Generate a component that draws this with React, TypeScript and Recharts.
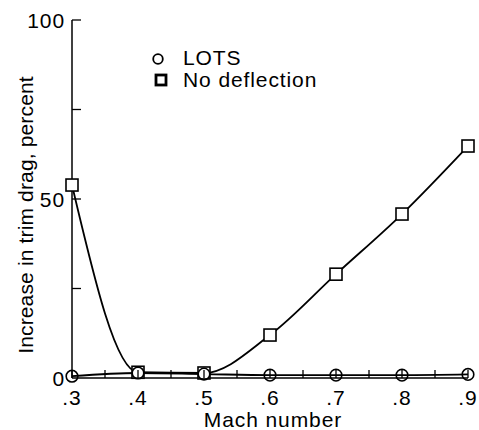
import React from "react";
import { LineChart, Line, XAxis, YAxis } from "recharts";

const mach = [0.3, 0.4, 0.5, 0.6, 0.7, 0.8, 0.9];
const lots = [0.5, 1.4, 1.1, 0.8, 0.8, 0.8, 1.0];
const noDeflection = [53.9, 1.6, 1.4, 12, 29, 45.8, 64.8];

const xTicks = [0.3, 0.35, 0.4, 0.45, 0.5, 0.55, 0.6, 0.65, 0.7, 0.75, 0.8, 0.85, 0.9];
const xTickLabels = [".3", "", ".4", "", ".5", "", ".6", "", ".7", "", ".8", "", ".9"];
const yTicks = [0, 25, 50, 75, 100];
const yTickLabels = ["0", "", "50", "", "100"];
const seriesNames = ["LOTS", "No deflection"];

const data = mach.map((m, i) => ({ mach: m, lots: lots[i], nodef: noDeflection[i] }));

const FONT = "'Liberation Sans', Arial, Helvetica, sans-serif";
const FS = 21;
const LS = 0.9;

const XTick = (props: any) => {
  const { x, y, payload } = props;
  const idx = xTicks.indexOf(payload.value);
  const label = idx >= 0 ? xTickLabels[idx] : "";
  return (
    <g>
      <line x1={x} y1={y} x2={x} y2={y - 8} stroke="#000" strokeWidth={1.3} />
      {label && (
        <text x={x} y={y + 27} textAnchor="middle" fontFamily={FONT} fontSize={FS} fill="#000" letterSpacing={LS}>
          {label}
        </text>
      )}
    </g>
  );
};

const YTick = (props: any) => {
  const { x, y, payload } = props;
  const idx = yTicks.indexOf(payload.value);
  const label = idx >= 0 ? yTickLabels[idx] : "";
  return (
    <g>
      {payload.value !== 0 && <line x1={x} y1={y} x2={x + 9} y2={y} stroke="#000" strokeWidth={1.3} />}
      {label && (
        <text x={x - 7} y={y + 8} textAnchor="end" fontFamily={FONT} fontSize={FS} fill="#000" letterSpacing={LS}>
          {label}
        </text>
      )}
    </g>
  );
};

const YLabel = (props: any) => {
  const vb = props.viewBox || { x: 12, y: 20, width: 60, height: 358 };
  const cx = vb.x + 21;
  const cy = vb.y + vb.height / 2 + 16;
  return (
    <text
      x={cx}
      y={cy}
      transform={`rotate(-90 ${cx} ${cy})`}
      textAnchor="middle"
      fontFamily={FONT}
      fontSize={FS}
      fill="#000"
      letterSpacing={0.15}
    >
      Increase in trim drag, percent
    </text>
  );
};

const XLabel = (props: any) => {
  const vb = props.viewBox || { x: 72, y: 378, width: 396, height: 30 };
  const cx = vb.x + vb.width / 2 + 3;
  const cy = vb.y + 49;
  return (
    <text x={cx} y={cy} textAnchor="middle" fontFamily={FONT} fontSize={FS} fill="#000" letterSpacing={LS}>
      Mach number
    </text>
  );
};

const SquareDot = (props: any) => {
  const { cx, cy } = props;
  if (cx == null || cy == null) return null;
  return <rect x={cx - 6} y={cy - 6} width={12} height={12} fill="#fff" stroke="#000" strokeWidth={1.6} />;
};

const rowStyle: React.CSSProperties = { display: "flex", alignItems: "center", height: 22, lineHeight: "22px" };

export default function App() {
  return (
    <div style={{ position: "absolute", left: 0, top: 0, width: 479, height: 430, background: "#fff" }}>
      <LineChart width={479} height={430} data={data} margin={{ top: 20, left: 12, right: 11, bottom: 22 }}>
        <XAxis
          type="number"
          dataKey="mach"
          domain={[0.3, 0.9]}
          ticks={xTicks}
          interval={0}
          tickSize={0}
          tickMargin={0}
          tickLine={false}
          tick={<XTick />}
          axisLine={{ stroke: "#000", strokeWidth: 1.5 }}
          height={30}
          label={<XLabel />}
        />
        <YAxis
          type="number"
          domain={[0, 100]}
          ticks={yTicks}
          interval={0}
          tickSize={0}
          tickMargin={0}
          tickLine={false}
          tick={<YTick />}
          axisLine={{ stroke: "#000", strokeWidth: 1.5 }}
          width={60}
          label={<YLabel />}
        />
        <Line
          type="monotone"
          dataKey="nodef"
          name={seriesNames[1]}
          stroke="#000"
          strokeWidth={1.8}
          dot={<SquareDot />}
          isAnimationActive={false}
        />
        <Line
          type="monotone"
          dataKey="lots"
          name={seriesNames[0]}
          stroke="#000"
          strokeWidth={1.8}
          dot={{ r: 5.8, fill: "none", stroke: "#000", strokeWidth: 1.6 }}
          isAnimationActive={false}
        />
      </LineChart>
      <div
        style={{
          position: "absolute",
          left: 150,
          top: 47,
          fontFamily: FONT,
          fontSize: FS,
          letterSpacing: LS,
          color: "#000",
        }}
      >
        <div style={rowStyle}>
          <svg width={33} height={22} style={{ display: "block" }}>
            <circle cx={8} cy={12} r={4.8} fill="none" stroke="#000" strokeWidth={1.8} />
          </svg>
          <span>{seriesNames[0]}</span>
        </div>
        <div style={rowStyle}>
          <svg width={33} height={22} style={{ display: "block" }}>
            <rect x={6} y={6} width={10} height={10} fill="#fff" stroke="#000" strokeWidth={2.8} />
          </svg>
          <span>{seriesNames[1]}</span>
        </div>
      </div>
    </div>
  );
}
